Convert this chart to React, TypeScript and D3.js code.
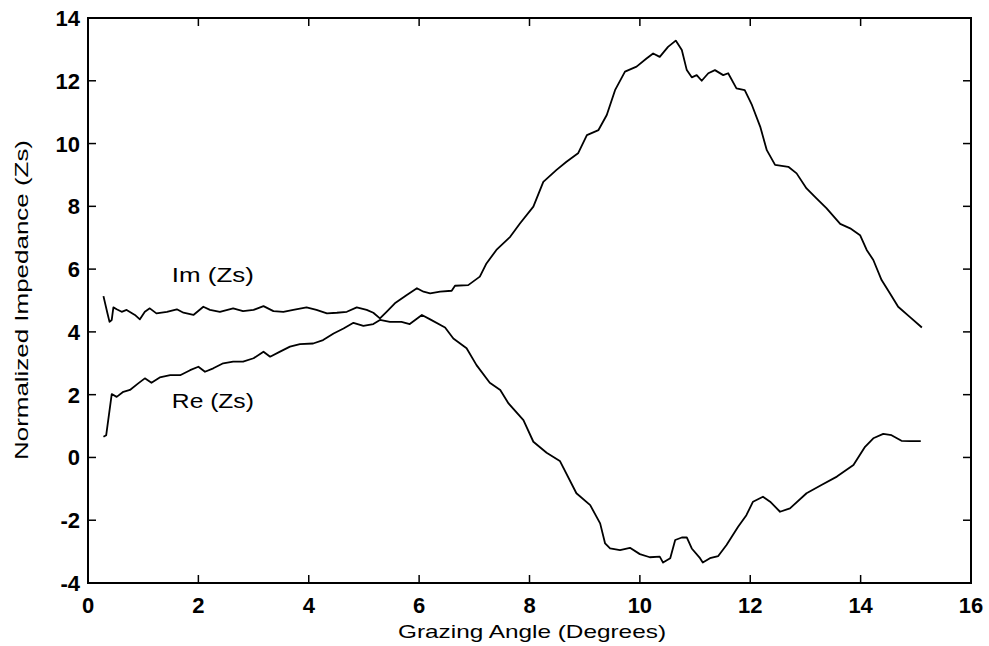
import { useEffect, useRef } from 'react';
import * as d3 from 'd3';

// grazing angle (deg) / value pairs
const imAngle = [0.28, 0.35, 0.39, 0.43, 0.46, 0.52, 0.61, 0.7, 0.85, 0.94, 1.03, 1.12, 1.24, 1.43, 1.61, 1.73, 1.91, 2.09, 2.21, 2.39, 2.63, 2.81, 3.0, 3.18, 3.36, 3.54, 3.72, 3.96, 4.14, 4.33, 4.51, 4.69, 4.87, 5.05, 5.17, 5.29, 5.41, 5.56, 5.77, 5.96, 6.08, 6.2, 6.38, 6.59, 6.65, 6.89, 7.1, 7.22, 7.4, 7.65, 7.83, 8.07, 8.25, 8.49, 8.67, 8.88, 9.04, 9.25, 9.4, 9.55, 9.73, 9.94, 10.12, 10.24, 10.36, 10.51, 10.65, 10.76, 10.85, 10.94, 11.03, 11.12, 11.24, 11.36, 11.51, 11.6, 11.75, 11.9, 12.03, 12.18, 12.3, 12.45, 12.69, 12.84, 13.02, 13.2, 13.38, 13.63, 13.81, 13.99, 14.11, 14.23, 14.38, 14.53, 14.68, 14.89, 15.11];
const imValue = [5.14, 4.61, 4.32, 4.38, 4.78, 4.72, 4.64, 4.7, 4.54, 4.4, 4.64, 4.75, 4.59, 4.64, 4.72, 4.61, 4.54, 4.8, 4.7, 4.64, 4.75, 4.66, 4.7, 4.82, 4.66, 4.64, 4.7, 4.78, 4.7, 4.59, 4.61, 4.64, 4.78, 4.7, 4.61, 4.43, 4.64, 4.91, 5.17, 5.39, 5.28, 5.23, 5.28, 5.31, 5.47, 5.49, 5.76, 6.18, 6.61, 7.03, 7.46, 7.99, 8.78, 9.16, 9.42, 9.69, 10.27, 10.43, 10.91, 11.7, 12.29, 12.45, 12.71, 12.87, 12.76, 13.08, 13.28, 12.98, 12.34, 12.11, 12.18, 12.0, 12.24, 12.34, 12.18, 12.24, 11.76, 11.7, 11.23, 10.54, 9.79, 9.32, 9.26, 9.05, 8.57, 8.25, 7.94, 7.44, 7.3, 7.08, 6.61, 6.29, 5.65, 5.23, 4.8, 4.48, 4.14];

const reAngle = [0.28, 0.33, 0.43, 0.52, 0.64, 0.76, 0.91, 1.03, 1.15, 1.3, 1.49, 1.67, 1.85, 2.0, 2.12, 2.27, 2.45, 2.63, 2.81, 3.0, 3.18, 3.3, 3.48, 3.66, 3.84, 4.08, 4.26, 4.45, 4.63, 4.81, 4.99, 5.17, 5.29, 5.47, 5.68, 5.83, 6.05, 6.2, 6.47, 6.62, 6.86, 7.04, 7.28, 7.47, 7.62, 7.89, 8.07, 8.31, 8.55, 8.85, 9.1, 9.28, 9.37, 9.46, 9.64, 9.82, 10.0, 10.18, 10.36, 10.42, 10.55, 10.64, 10.76, 10.85, 10.94, 11.09, 11.14, 11.27, 11.42, 11.57, 11.78, 11.93, 12.05, 12.23, 12.36, 12.54, 12.72, 13.02, 13.29, 13.57, 13.87, 14.08, 14.23, 14.41, 14.56, 14.74, 14.89, 15.09];
const reValue = [0.66, 0.71, 2.02, 1.93, 2.09, 2.15, 2.36, 2.52, 2.38, 2.55, 2.62, 2.62, 2.78, 2.89, 2.73, 2.84, 3.0, 3.05, 3.05, 3.16, 3.37, 3.21, 3.37, 3.53, 3.61, 3.63, 3.74, 3.95, 4.11, 4.29, 4.19, 4.25, 4.38, 4.32, 4.32, 4.25, 4.54, 4.4, 4.14, 3.79, 3.48, 2.94, 2.38, 2.15, 1.72, 1.19, 0.5, 0.15, -0.11, -1.14, -1.52, -2.1, -2.74, -2.9, -2.95, -2.88, -3.08, -3.18, -3.16, -3.35, -3.21, -2.63, -2.55, -2.55, -2.9, -3.21, -3.35, -3.21, -3.14, -2.79, -2.21, -1.84, -1.41, -1.25, -1.41, -1.73, -1.62, -1.14, -0.88, -0.61, -0.24, 0.34, 0.61, 0.75, 0.71, 0.53, 0.52, 0.52];

const xTicks = [0, 2, 4, 6, 8, 10, 12, 14, 16];
const yTicks = [-4, -2, 0, 2, 4, 6, 8, 10, 12, 14];

const curveLabels = ['Im (Zs)', 'Re (Zs)'];
const labelAt = [
  [1.52, 5.6],
  [1.52, 1.56],
];

const Chart = () => {
  const ref = useRef<SVGSVGElement | null>(null);

  useEffect(() => {
    if (!ref.current) return;
    const svg = d3.select(ref.current);
    svg.selectAll('*').remove();
    const width = 989;
    const height = 646;
    const margin = { top: 18, right: 18, bottom: 63, left: 88 };
    const font = "'Liberation Sans', Arial, sans-serif";

    svg.attr('width', width).attr('height', height);

    const x = d3.scaleLinear().domain([0, 16]).range([margin.left, width - margin.right]);
    const y = d3.scaleLinear().domain([-4, 14]).range([height - margin.bottom, margin.top]);

    const tick = 8;
    const g = svg.append('g').attr('stroke', '#000');

    // inward ticks on all four sides
    xTicks.forEach((t) => {
      g.append('line').attr('x1', x(t)).attr('x2', x(t)).attr('y1', y(-4)).attr('y2', y(-4) - tick).attr('stroke-width', 1.5);
      g.append('line').attr('x1', x(t)).attr('x2', x(t)).attr('y1', y(14)).attr('y2', y(14) + tick).attr('stroke-width', 1.5);
    });
    yTicks.forEach((t) => {
      g.append('line').attr('x1', x(0)).attr('x2', x(0) + tick).attr('y1', y(t)).attr('y2', y(t)).attr('stroke-width', 1.5);
      g.append('line').attr('x1', x(16)).attr('x2', x(16) - tick).attr('y1', y(t)).attr('y2', y(t)).attr('stroke-width', 1.5);
    });

    g.append('rect')
      .attr('x', x(0))
      .attr('y', y(14))
      .attr('width', x(16) - x(0))
      .attr('height', y(-4) - y(14))
      .attr('fill', 'none')
      .attr('stroke-width', 2);

    svg
      .append('g')
      .selectAll('text')
      .data(xTicks)
      .join('text')
      .attr('x', (d) => x(d))
      .attr('y', y(-4) + 30)
      .attr('text-anchor', 'middle')
      .attr('font-family', font)
      .attr('font-size', 22)
      .attr('font-weight', 'bold')
      .text((d) => d);

    svg
      .append('g')
      .selectAll('text')
      .data(yTicks)
      .join('text')
      .attr('x', x(0) - 8)
      .attr('y', (d) => y(d) + 8)
      .attr('text-anchor', 'end')
      .attr('font-family', font)
      .attr('font-size', 22)
      .attr('font-weight', 'bold')
      .text((d) => d);

    svg
      .append('text')
      .attr('x', 532)
      .attr('y', 638)
      .attr('text-anchor', 'middle')
      .attr('font-family', font)
      .attr('font-size', 19)
      .attr('textLength', 268)
      .attr('lengthAdjust', 'spacingAndGlyphs')
      .text('Grazing Angle (Degrees)');

    svg
      .append('text')
      .attr('transform', `translate(28,300) rotate(-90)`)
      .attr('text-anchor', 'middle')
      .attr('font-family', font)
      .attr('font-size', 18)
      .attr('textLength', 320)
      .attr('lengthAdjust', 'spacingAndGlyphs')
      .text('Normalized Impedance (Zs)');

    const line = d3
      .line<[number, number]>()
      .x((d) => x(d[0]))
      .y((d) => y(d[1]));

    const series = [
      d3.zip(imAngle, imValue) as [number, number][],
      d3.zip(reAngle, reValue) as [number, number][],
    ];

    svg
      .append('g')
      .selectAll('path')
      .data(series)
      .join('path')
      .attr('fill', 'none')
      .attr('stroke', '#000')
      .attr('stroke-width', 1.8)
      .attr('stroke-linejoin', 'round')
      .attr('d', line);

    svg
      .append('g')
      .selectAll('text')
      .data(curveLabels)
      .join('text')
      .attr('x', (_, i) => x(labelAt[i][0]))
      .attr('y', (_, i) => y(labelAt[i][1]))
      .attr('font-family', font)
      .attr('font-size', 21)
      .attr('textLength', 82)
      .attr('lengthAdjust', 'spacingAndGlyphs')
      .text((d) => d);
  }, []);

  return <svg ref={ref} style={{ position: 'absolute', left: 0, top: 0 }} />;
};

export default function App() {
  return <Chart />;
}
